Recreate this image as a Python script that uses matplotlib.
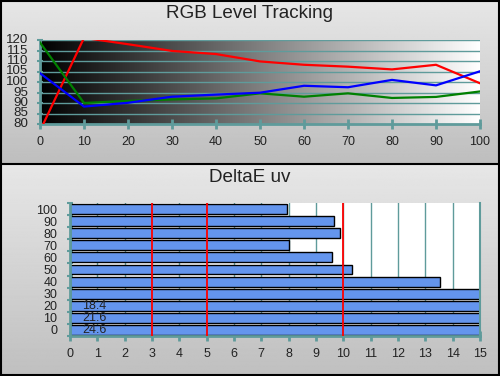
import numpy as np
import matplotlib
matplotlib.use("Agg")
import matplotlib.pyplot as plt

plt.rcParams['font.family'] = ['Liberation Sans', 'DejaVu Sans']

# ---- data ----
levels = [0, 10, 20, 30, 40, 50, 60, 70, 80, 90, 100]
red = [76.7, 121.0, 118.0, 114.8, 113.3, 109.8, 108.2, 107.3, 106.0, 108.2, 99.4]
green = [118.8, 90.0, 91.0, 91.7, 92.2, 94.6, 93.0, 94.6, 92.4, 92.9, 95.5]
blue = [104.2, 88.3, 90.1, 93.0, 94.0, 94.9, 98.2, 97.5, 101.0, 98.4, 105.1]
rgb_yticks = [80, 85, 90, 95, 100, 105, 110, 115, 120]

de_levels = ['0', '10', '20', '30', '40', '50', '60', '70', '80', '90', '100']
de_values = [24.6, 21.6, 18.4, 15.4, 13.55, 10.33, 9.6, 8.0, 9.89, 9.67, 7.93]
de_labels = {0: '24.6', 1: '21.6', 2: '18.4'}
ref_lines = [3, 5, 10]

teal = '#5f9b9b'
W, H = 500, 376
fig = plt.figure(figsize=(W / 100, H / 100), dpi=100)

# background gradients
bg = fig.add_axes([0, 0, 1, 1], zorder=-10)
bg.set_xlim(0, W)
bg.set_ylim(H, 0)
bg.axis('off')
g = np.linspace(0, 1, 256).reshape(-1, 1)
top_grad = 0.905 - 0.16 * g
bg.imshow(np.repeat(top_grad, 2, axis=1), cmap='gray', vmin=0, vmax=1,
          extent=[0, W, 163, 0], aspect='auto')
bot_grad = 0.905 - 0.155 * g
bg.imshow(np.repeat(bot_grad, 2, axis=1), cmap='gray', vmin=0, vmax=1,
          extent=[0, W, H, 164], aspect='auto')
bg.plot([0, W], [163.5, 163.5], color='black', lw=1.5)
bg.add_patch(plt.Rectangle((0.75, 0.75), W - 1.5, H - 1.5, fill=False,
                           edgecolor='black', lw=1.5))
bg.set_xlim(0, W)
bg.set_ylim(H, 0)

fig.text(0.5, 1 - 14 / H, 'RGB Level Tracking', ha='center', va='center',
         fontsize=13.6, color='#222222')
fig.text(0.5, 1 - 178 / H, 'DeltaE uv', ha='center', va='center',
         fontsize=13.6, color='#222222')

# ---- top chart ----
ax1 = fig.add_axes([40 / W, 1 - 124 / H, 440 / W, 84 / H])
ax1.imshow(np.linspace(0, 1, 256).reshape(1, -1), cmap='gray', vmin=0, vmax=1,
           extent=[0, 100, 80, 120], aspect='auto', zorder=0)
for v in rgb_yticks[1:]:
    ax1.axhline(v, color=teal, lw=1.0, zorder=1)
ax1.plot(levels, red, color='#ff0000', lw=1.6, zorder=3)
ax1.plot(levels, green, color='#008000', lw=1.6, zorder=3)
ax1.plot(levels, blue, color='#0000ff', lw=1.6, zorder=3)
ax1.set_xlim(0, 100)
ax1.set_ylim(80, 120)
ax1.set_xticks(levels)
ax1.set_yticks(rgb_yticks)
for s in ['top', 'right']:
    ax1.spines[s].set_visible(False)
ax1.spines['bottom'].set_color(teal)
ax1.spines['bottom'].set_linewidth(2)
ax1.spines['left'].set_color(teal)
ax1.spines['left'].set_linewidth(2)
ax1.tick_params(axis='x', direction='inout', length=7, width=2, color=teal,
                labelsize=9, pad=5, labelcolor='#222222')
ax1.tick_params(axis='y', direction='inout', length=5, width=1.5, color=teal,
                labelsize=9.6, pad=6, labelcolor='#222222')
for lbl in ax1.get_yticklabels():
    lbl.set_va('center')

# ---- bottom chart ----
ax2 = fig.add_axes([70 / W, 1 - 336 / H, 410 / W, 133 / H])
ax2.set_facecolor('white')
ypos = np.arange(len(de_levels))
for xv in range(1, 15):
    ax2.axvline(xv, color=teal, lw=1.0, zorder=1)
ax2.barh(ypos, de_values, height=0.82, color='#6495ed', edgecolor='black',
         lw=1.0, zorder=2)
for xv in ref_lines:
    ax2.axvline(xv, color='#ff0000', lw=1.3, zorder=4)
for i, t in de_labels.items():
    ax2.text(0.45, ypos[i], t, ha='left', va='center', fontsize=9,
             color='#222222', zorder=5)
ax2.set_xlim(0, 15)
ax2.set_ylim(-0.5, 10.5)
ax2.set_xticks(range(16))
ax2.set_yticks(ypos)
ax2.set_yticklabels(de_levels)
ax2.set_yticks(np.arange(-0.5, 11, 1), minor=True)
ax2.spines['top'].set_visible(False)
ax2.spines['right'].set_color(teal)
ax2.spines['right'].set_linewidth(1.5)
ax2.spines['bottom'].set_color(teal)
ax2.spines['bottom'].set_linewidth(2)
ax2.spines['left'].set_color(teal)
ax2.spines['left'].set_linewidth(2)
ax2.tick_params(axis='x', direction='inout', length=7, width=2, color=teal,
                labelsize=9, pad=5, labelcolor='#222222')
ax2.tick_params(axis='y', which='major', length=0, labelsize=9, pad=9,
                labelcolor='#222222')
ax2.tick_params(axis='y', which='minor', direction='inout', length=5,
                width=1.5, color=teal)

fig.savefig('out.png', dpi=100)
